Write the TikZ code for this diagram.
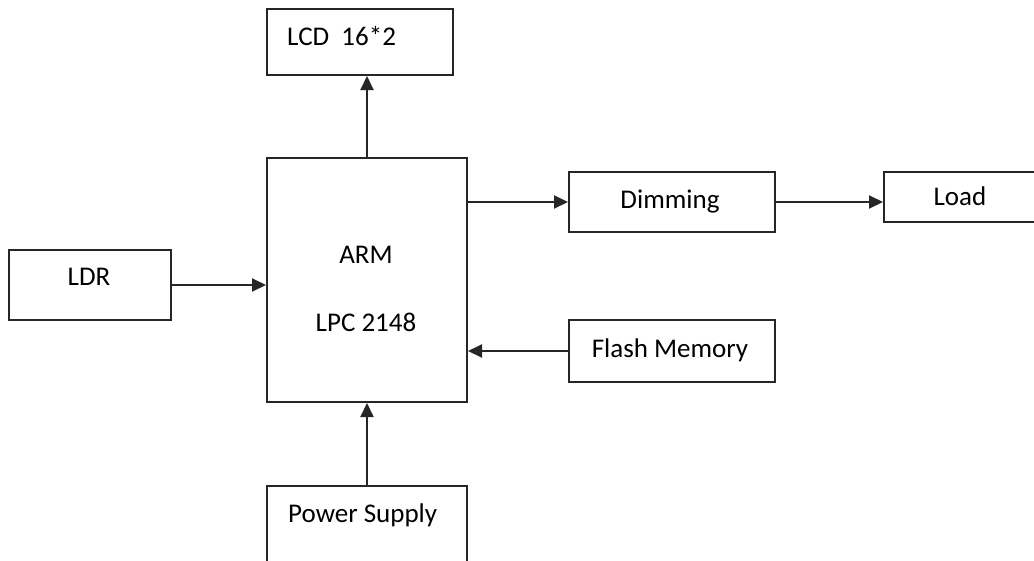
\documentclass[tikz,border=0pt]{standalone}
\usepackage{fontspec}
\setmainfont{Carlito}
\usetikzlibrary{arrows.meta}
\begin{document}
\begin{tikzpicture}[x=1pt,y=-1pt,
  box/.style={draw=black!85,line width=2pt,rectangle,inner sep=0pt,fill=white},
  lbl/.style={font=\fontsize{27}{32}\selectfont,inner sep=0pt,anchor=base,text=black},
  conn/.style={line width=2pt,draw=black!85,-{Triangle[length=14pt,width=13pt]}}]
\clip (0,0) rectangle (1034,560);
\fill[white] (0,0) rectangle (1034,560);
% boxes
\node[box,minimum width=186pt,minimum height=66pt] (lcd) at (360,42) {};
\node[box,minimum width=200pt,minimum height=244pt] (arm) at (367,280) {};
\node[box,minimum width=162pt,minimum height=70pt] (ldr) at (90,285) {};
\node[box,minimum width=206pt,minimum height=60pt] (dim) at (672,202) {};
\node[box,minimum width=166pt,minimum height=50pt] (load) at (967,197) {};
\node[box,minimum width=206pt,minimum height=62pt] (flash) at (672,351) {};
\node[box,minimum width=200pt,minimum height=114pt] (power) at (367,543) {};
% labels
\node[lbl,anchor=base west] (tlcd) at (287,45) {LCD\ \ 16*2};
\node[lbl] (tarm) at (366,263) {ARM};
\node[lbl] (tlpc) at (366,331) {LPC 2148};
\node[lbl] (tldr) at (89,285) {LDR};
\node[lbl] (tdim) at (670,208) {Dimming};
\node[lbl] (tload) at (960,205) {Load};
\node[lbl] (tflash) at (670,357) {Flash Memory};
\node[lbl,anchor=base west] (tpow) at (288,522) {Power Supply};
% connectors
\draw[conn] (arm.north) -- (arm.north |- lcd.south);
\draw[conn] (dim.west -| arm.east) -- (dim.west);
\draw[conn] (dim.east) -- (dim.east -| load.west);
\draw[conn] (ldr.east) -- (ldr.east -| arm.west);
\draw[conn] (flash.west) -- (flash.west -| arm.east);
\draw[conn] (power.north) -- (power.north |- arm.south);
\end{tikzpicture}
\end{document}
